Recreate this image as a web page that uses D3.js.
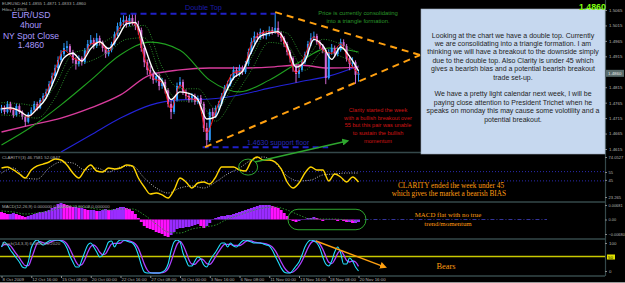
<!DOCTYPE html>
<html>
<head>
<meta charset="utf-8">
<script src="https://cdn.jsdelivr.net/npm/d3@7"></script>
<style>
html, body { margin: 0; padding: 0; background: #000; }
svg { display: block; font-family: "Liberation Sans", Arial, sans-serif; }
</style>
</head>
<body>
<div id="chart"></div>
<script>
// ---- data (EURUSD H4, 8 Oct - 20 Nov 2009) ----
var dateLabels = ["8 Oct 2009", "12 Oct 16:00", "15 Oct 08:00", "20 Oct 00:00", "22 Oct 16:00", "27 Oct 08:00",
  "30 Oct 00:00", "3 Nov 16:00", "6 Nov 08:00", "11 Nov 00:00", "13 Nov 16:00", "18 Nov 08:00", "20 Nov 16:00"];

var opens = [1.4740,1.4748,1.4735,1.4761,1.4741,1.4725,1.4754,1.4735,1.4719,1.4703,
1.4728,1.4741,1.4761,1.4748,1.4774,1.4787,1.4800,1.4825,1.4851,1.4877,
1.4903,1.4922,1.4942,1.4948,1.4929,1.4903,1.4890,1.4909,1.4896,1.4935,
1.4955,1.4968,1.4948,1.4974,1.4961,1.4942,1.4922,1.4935,1.4955,1.4987,
1.5013,1.5026,1.5033,1.5020,1.5039,1.5026,1.5013,1.5000,1.4942,1.4896,
1.4871,1.4858,1.4838,1.4851,1.4819,1.4832,1.4806,1.4761,1.4735,1.4774,
1.4819,1.4832,1.4800,1.4787,1.4774,1.4787,1.4767,1.4780,1.4761,1.4683,
1.4644,1.4735,1.4722,1.4748,1.4761,1.4787,1.4813,1.4825,1.4845,1.4871,
1.4858,1.4877,1.4864,1.4890,1.4929,1.4961,1.4981,1.4974,1.4994,1.4981,
1.4987,1.5000,1.4994,1.5007,1.4987,1.4974,1.4955,1.4929,1.4909,1.4884,
1.4858,1.4871,1.4896,1.4922,1.4955,1.4974,1.4981,1.4961,1.4948,1.4935,
1.4845,1.4929,1.4942,1.4922,1.4935,1.4961,1.4948,1.4909,1.4890,1.4896,
1.4855];
var highs = [1.4758,1.4756,1.4770,1.4768,1.4748,1.4762,1.4760,1.4740,1.4726,1.4734,
1.4750,1.4770,1.4768,1.4780,1.4796,1.4810,1.4835,1.4862,1.4888,1.4915,
1.4935,1.4958,1.4965,1.4955,1.4936,1.4912,1.4918,1.4915,1.4942,1.4968,
1.4984,1.4975,1.4990,1.4982,1.4966,1.4948,1.4944,1.4962,1.4995,1.5024,
1.5040,1.5048,1.5045,1.5050,1.5054,1.5052,1.5030,1.5008,1.4950,1.4905,
1.4885,1.4866,1.4862,1.4858,1.4845,1.4840,1.4812,1.4770,1.4782,1.4830,
1.4848,1.4840,1.4808,1.4795,1.4796,1.4794,1.4788,1.4790,1.4768,1.4700,
1.4745,1.4748,1.4756,1.4770,1.4796,1.4822,1.4836,1.4856,1.4882,1.4880,
1.4888,1.4885,1.4900,1.4940,1.4975,1.4995,1.4992,1.5005,1.5000,1.4998,
1.5012,1.5010,1.5056,1.5028,1.4996,1.4980,1.4962,1.4935,1.4915,1.4890,
1.4880,1.4905,1.4930,1.4965,1.4990,1.4995,1.4988,1.4968,1.4955,1.4940,
1.4938,1.4955,1.4950,1.4946,1.4972,1.4970,1.4955,1.4918,1.4912,1.4902,
1.4871];
var lows = [1.4731,1.4727,1.4730,1.4733,1.4716,1.4720,1.4728,1.4710,1.4688,1.4698,
1.4722,1.4736,1.4740,1.4744,1.4768,1.4779,1.4795,1.4818,1.4845,1.4870,
1.4896,1.4915,1.4930,1.4920,1.4892,1.4872,1.4882,1.4885,1.4890,1.4928,
1.4950,1.4938,1.4942,1.4950,1.4930,1.4910,1.4915,1.4928,1.4950,1.4980,
1.5005,1.5015,1.5008,1.5012,1.5015,1.5000,1.4985,1.4930,1.4880,1.4855,
1.4842,1.4826,1.4830,1.4805,1.4810,1.4795,1.4750,1.4712,1.4728,1.4768,
1.4812,1.4790,1.4776,1.4765,1.4766,1.4758,1.4760,1.4745,1.4670,1.4622,
1.4638,1.4710,1.4715,1.4740,1.4755,1.4780,1.4805,1.4818,1.4838,1.4848,
1.4850,1.4855,1.4858,1.4884,1.4922,1.4955,1.4962,1.4968,1.4972,1.4970,
1.4980,1.4985,1.4988,1.4978,1.4962,1.4945,1.4918,1.4895,1.4865,1.4830,
1.4845,1.4865,1.4890,1.4915,1.4948,1.4965,1.4952,1.4938,1.4925,1.4825,
1.4840,1.4920,1.4912,1.4915,1.4930,1.4938,1.4898,1.4870,1.4878,1.4826,
1.4833];
var closes = [1.4748,1.4735,1.4761,1.4741,1.4725,1.4754,1.4735,1.4719,1.4703,1.4728,
1.4741,1.4761,1.4748,1.4774,1.4787,1.4800,1.4825,1.4851,1.4877,1.4903,
1.4922,1.4942,1.4948,1.4929,1.4903,1.4890,1.4909,1.4896,1.4935,1.4955,
1.4968,1.4948,1.4974,1.4961,1.4942,1.4922,1.4935,1.4955,1.4987,1.5013,
1.5026,1.5033,1.5020,1.5039,1.5026,1.5013,1.5000,1.4942,1.4896,1.4871,
1.4858,1.4838,1.4851,1.4819,1.4832,1.4806,1.4761,1.4735,1.4774,1.4819,
1.4832,1.4800,1.4787,1.4774,1.4787,1.4767,1.4780,1.4761,1.4683,1.4644,
1.4735,1.4722,1.4748,1.4761,1.4787,1.4813,1.4825,1.4845,1.4871,1.4858,
1.4877,1.4864,1.4890,1.4929,1.4961,1.4981,1.4974,1.4994,1.4981,1.4987,
1.5000,1.4994,1.5007,1.4987,1.4974,1.4955,1.4929,1.4909,1.4884,1.4858,
1.4871,1.4896,1.4922,1.4955,1.4974,1.4981,1.4961,1.4948,1.4935,1.4845,
1.4929,1.4942,1.4922,1.4935,1.4961,1.4948,1.4909,1.4890,1.4896,1.4855,
1.4860];

// moving averages, read every 3rd / 6th / 10th bar
var fastMA = [1.4745,1.4748,1.4738,1.4722,1.4745,1.4780,1.4845,1.4910,1.4925,1.4900,
1.4940,1.4962,1.4940,1.4975,1.5020,1.5025,1.4950,1.4870,1.4835,1.4775,
1.4800,1.4795,1.4775,1.4712,1.4720,1.4790,1.4845,1.4866,1.4930,1.4980,
1.4990,1.4995,1.4950,1.4880,1.4900,1.4970,1.4950,1.4905,1.4945,1.4915,
1.4868];
var redMA = [1.4748,1.4745,1.4740,1.4718,1.4752,1.4795,1.4870,1.4935,1.4910,1.4900,
1.4955,1.4960,1.4930,1.4995,1.5028,1.5018,1.4910,1.4845,1.4830,1.4745,
1.4822,1.4780,1.4772,1.4668,1.4738,1.4808,1.4862,1.4868,1.4955,1.4988,
1.4995,1.4990,1.4935,1.4862,1.4918,1.4978,1.4935,1.4925,1.4955,1.4895,
1.4858];
var bandUp = [1.4765,1.4762,1.4755,1.4820,1.4925,1.4940,1.4970,1.5010,1.5015,1.4880,1.4810,
1.4810,1.4745,1.4820,1.4910,1.5000,1.4990,1.4910,1.4970,1.4955,1.4925];
var bandDn = [1.4725,1.4722,1.4715,1.4780,1.4885,1.4900,1.4930,1.4970,1.4975,1.4840,1.4770,
1.4770,1.4705,1.4780,1.4870,1.4960,1.4950,1.4870,1.4930,1.4915,1.4885];
var greenMA = [1.4628,1.4686,1.4758,1.4838,1.4920,1.4961,1.4935,1.4838,1.4800,1.4838,1.4896,1.4942,1.4929];
var pinkMA = [1.4670,1.4693,1.4715,1.4748,1.4790,1.4855,1.4871,1.4877,1.4877,1.4880,1.4887,1.4877,1.4880];
var blueMA = [1.4605,1.4660,1.4715,1.4757,1.4774,1.4777,1.4790,1.4812,1.4832,1.4851,1.4884];

// CLARITY(3) (every 2nd bar) and its signal (every 4th bar)
var clarity = [58.9,60.0,56.8,52.5,48.1,56.8,61.1,63.2,65.4,68.6,
67.6,62.2,53.5,48.1,56.8,62.2,55.7,54.6,58.9,57.9,
58.9,62.2,61.1,48.1,38.4,30.8,31.9,29.8,26.5,35.2,
48.1,43.8,37.3,42.7,43.8,41.6,49.2,60.0,60.0,60.0,
56.8,55.7,66.5,70.8,67.6,67.6,65.4,57.9,43.8,37.3,
42.7,53.5,60.0,56.8,56.8,44.9,52.5,49.2,43.8,49.2,
43.8];
var claritySig = [53.5,58.9,48.1,47.0,58.9,65.4,64.3,56.8,58.9,54.6,60.0,61.1,48.1,37.3,31.9,37.3,
39.5,37.3,43.8,52.5,58.9,67.6,70.8,64.3,50.3,44.9,45.9,51.4,52.5,53.5,53.5];

// MACD(12,26,9) histogram (every bar) and signal (every 4th bar)
var macd = [0.00352,0.00305,0.00258,0.00258,0.00305,0.00258,0.00211,0.00164,0.00117,0.00164,
0.00211,0.00258,0.00305,0.00352,0.00352,0.00399,0.00446,0.00539,0.00586,0.00727,
0.00774,0.00727,0.00680,0.00633,0.00586,0.00586,0.00539,0.00539,0.00492,0.00446,
0.00446,0.00446,0.00399,0.00399,0.00446,0.00492,0.00446,0.00446,0.00492,0.00539,
0.00586,0.00586,0.00539,0.00492,0.00399,0.00258,0.00070,-0.00117,-0.00305,-0.00399,
-0.00446,-0.00492,-0.00586,-0.00633,-0.00680,-0.00774,-0.00821,-0.00727,-0.00586,-0.00446,
-0.00399,-0.00399,-0.00352,-0.00352,-0.00305,-0.00258,-0.00211,-0.00305,-0.00399,-0.00305,
-0.00164,-0.00023,0.00070,0.00117,0.00164,0.00164,0.00211,0.00211,0.00258,0.00305,
0.00352,0.00399,0.00446,0.00492,0.00539,0.00586,0.00633,0.00680,0.00680,0.00680,
0.00680,0.00633,0.00586,0.00539,0.00446,0.00305,0.00164,0.00023,-0.00070,-0.00117,
-0.00070,-0.00023,0.00023,0.00070,0.00070,0.00117,0.00070,0.00023,-0.00070,-0.00023,
0.00023,0.00023,-0.00023,-0.00070,-0.00023,-0.00070,-0.00117,-0.00117,-0.00164,-0.00164,
-0.00117];
var macdSig = [0.00399,0.00352,0.00258,0.00305,0.00399,0.00539,0.00633,0.00586,0.00492,0.00446,
0.00492,0.00492,0.00211,-0.00211,-0.00586,-0.00633,-0.00446,-0.00352,-0.00258,0.00023,
0.00211,0.00399,0.00539,0.00586,0.00446,0.00211,0.00023,0.00023,0.00023,-0.00023,-0.00070];

// Stochastic(14,3,3) %K and %D
var stochK = [78.8,93.9,84.8,69.7,57.6,45.5,33.3,18.2,15.2,33.3,
75.8,93.9,100,90.9,84.8,90.9,97,100,100,100,
97,90.9,75.8,51.5,33.3,18.2,18.2,39.4,63.6,84.8,
90.9,78.8,63.6,48.5,54.5,72.7,93.9,97,78.8,93.9,
100,100,97,93.9,90.9,78.8,54.5,24.2,3,0,
0,0,0,0,3,9.1,27.3,66.7,93.9,100,
93.9,60.6,39.4,21.2,21.2,36.4,48.5,42.4,24.2,18.2,
36.4,51.5,63.6,78.8,90.9,90.9,78.8,90.9,81.8,78.8,
87.9,97,100,97,93.9,90.9,90.9,90.9,87.9,84.8,
81.8,69.7,51.5,33.3,15.2,3,0,0,9.1,21.2,
33.3,54.5,78.8,93.9,100,97,90.9,75.8,48.5,27.3,
21.2,36.4,63.6,78.8,60.6,27.3,27.3,45.5,36.4,18.2,
6.1];
var stochD = [80,86,85.8,82.8,70.7,57.6,45.5,32.3,22.2,22.2,
41.4,67.7,89.9,94.9,91.9,88.9,90.9,96,99,100,
99,96,87.9,72.7,53.5,34.3,23.2,25.3,40.4,62.6,
79.8,84.8,77.8,63.6,55.5,58.6,73.7,87.9,89.9,89.9,
90.9,98,99,97,94,87.9,74.7,52.5,27.2,9.1,
1,0,0,0,1,4,13.1,34.4,62.6,86.9,
95.9,84.8,64.6,40.4,27.3,26.3,35.4,42.4,38.4,28.3,
26.3,35.4,50.5,64.6,77.8,86.9,86.9,86.9,83.8,83.8,
82.8,87.9,95,98,97,93.9,91.9,90.9,89.9,87.9,
84.8,78.8,67.7,51.5,33.3,17.2,6.1,1,3,10.1,
21.2,36.4,55.5,75.7,90.9,97,96,87.9,71.7,50.5,
32.3,28.3,40.4,59.6,67.7,55.5,38.4,33.4,36.4,33.4,
20.2];

var priceTicks = [1.5065, 1.5015, 1.4965, 1.4915, 1.4815, 1.4765, 1.4715, 1.4665, 1.4615];
var lastPrice = 1.4860;

var noteLines = ["Looking at the chart we have a double top.  Currently",
  "we are consolidating into a triangle formation.  I am",
  "thinking we will have a breakout to the downside simply",
  "due to the double top.  Also Clarity is under 45 which",
  "gives a bearish bias and a potential bearish breakout",
  "trade set-up.", "",
  "We have a pretty light calendar next week, I will be",
  "paying close attention to President Trichet when he",
  "speaks on monday this may cause some volotility and a",
  "potential breakout."];

// ---- layout ----
var width = 625, height = 283, plotRight = 605;
var gridColor = "#34484a";

var svg = d3.select("#chart").append("svg")
  .attr("width", width)
  .attr("height", height);
svg.append("rect").attr("width", width).attr("height", height).attr("fill", "#000");

var defs = svg.append("defs");
function clip(id, y0, y1) {
  defs.append("clipPath").attr("id", id)
    .append("rect").attr("x", 0).attr("y", y0).attr("width", plotRight).attr("height", y1 - y0);
}
clip("cMain", 0, 152);
clip("cClar", 153, 201);
clip("cMacd", 203, 238);
clip("cStoch", 240, 275);

function arrowHead(id, color) {
  defs.append("marker").attr("id", id)
    .attr("viewBox", "0 0 10 10").attr("refX", 7).attr("refY", 5)
    .attr("markerWidth", 5).attr("markerHeight", 5).attr("orient", "auto")
    .append("path").attr("d", "M0,0L10,5L0,10z").attr("fill", color);
}
arrowHead("arGreen", "#2ea62e");
arrowHead("arOrange", "#ffa010");

/* Scales */
var x = d3.scaleLinear().domain([0, 120]).range([1.5, 358.5]);
var yP = d3.scaleLinear().domain([1.4615, 1.5065]).range([149, 10]);
var yC = d3.scaleLinear().domain([23.265, 74.0527]).range([201, 154]);
var yM = d3.scaleLinear().domain([-0.0082, 0.0082]).range([237, 202]);
var yS = d3.scaleLinear().domain([0, 100]).range([273, 240]);

var idx3 = d3.range(0, 121, 3), idx6 = d3.range(0, 121, 6), idx10 = d3.range(0, 121, 10);
var idx2 = d3.range(0, 121, 2), idx4 = d3.range(0, 121, 4), idx1 = d3.range(0, 121);

function series(ix, vals) { return vals.map(function(v, k) { return [ix[k], v]; }); }
function lineFor(ys) {
  return d3.line().x(function(d) { return x(d[0]); }).y(function(d) { return ys(d[1]); })
    .curve(d3.curveMonotoneX);
}

/* panel separators */
[152.5, 202, 239, 276].forEach(function(yy) {
  svg.append("line").attr("x1", 0).attr("x2", plotRight).attr("y1", yy).attr("y2", yy)
    .attr("stroke", gridColor).attr("stroke-width", 1.6);
});
svg.append("line").attr("x1", plotRight + 0.5).attr("x2", plotRight + 0.5).attr("y1", 0).attr("y2", 276)
  .attr("stroke", gridColor).attr("stroke-width", 1.2);
svg.append("line").attr("x1", 0).attr("x2", width).attr("y1", 282.5).attr("y2", 282.5)
  .attr("stroke", "#9a9a9a");

/* ---- main price panel ---- */
var main = svg.append("g").attr("clip-path", "url(#cMain)");

var pL = lineFor(yP);
main.append("path").attr("d", pL(series(idx10.slice(2), blueMA)))
  .attr("fill", "none").attr("stroke", "#2323d8").attr("stroke-width", 1.1);
main.append("path").attr("d", pL(series(idx10, pinkMA)))
  .attr("fill", "none").attr("stroke", "#d83c9c").attr("stroke-width", 1.4);
main.append("path").attr("d", pL(series(idx10, greenMA)))
  .attr("fill", "none").attr("stroke", "#20a020").attr("stroke-width", 1.1);

var bars = closes.map(function(c, i) {
  return { i: i, o: opens[i], h: highs[i], l: lows[i], c: c };
});
var barColor = function(d) { return d.c >= d.o ? "#2c9cff" : "#d268d0"; };

main.selectAll(".wick").data(bars).enter().append("line")
  .attr("class", "wick")
  .attr("x1", function(d) { return x(d.i); }).attr("x2", function(d) { return x(d.i); })
  .attr("y1", function(d) { return yP(d.h); }).attr("y2", function(d) { return yP(d.l); })
  .attr("stroke", barColor).attr("stroke-width", 1);
main.selectAll(".body").data(bars).enter().append("rect")
  .attr("class", "body")
  .attr("x", function(d) { return x(d.i) - 1; })
  .attr("width", 2)
  .attr("y", function(d) { return yP(Math.max(d.o, d.c)); })
  .attr("height", function(d) { return Math.max(1, Math.abs(yP(d.o) - yP(d.c))); })
  .attr("fill", barColor);

[bandUp, bandDn].forEach(function(b) {
  main.append("path").attr("d", pL(series(idx6, b)))
    .attr("fill", "none").attr("stroke", "#2e9a2e").attr("stroke-width", 0.9)
    .attr("stroke-dasharray", "1,1.5");
});
main.append("path").attr("d", pL(series(idx3, redMA)))
  .attr("fill", "none").attr("stroke", "#ff1a1a").attr("stroke-width", 1);
main.append("path").attr("d", pL(series(idx3, fastMA)))
  .attr("fill", "none").attr("stroke", "#ffffff").attr("stroke-width", 1.4);

/* chart study lines */
function dashed(g, x1, y1, x2, y2, color, w, dash) {
  return g.append("line").attr("x1", x1).attr("y1", y1).attr("x2", x2).attr("y2", y2)
    .attr("stroke", color).attr("stroke-width", w).attr("stroke-dasharray", dash);
}
var topPx = 1.5053, floorPx = 1.4621, apexBar = 140.7, apexPx = 1.4919;
dashed(svg, x(40), yP(topPx), x(92), yP(topPx), "#2020c8", 2, "6,4");
dashed(svg, x(67.6), yP(floorPx), x(109.8), yP(floorPx), "#2020c8", 2, "6,4");
dashed(svg, x(92), yP(1.5058), x(apexBar), yP(apexPx), "#ffa010", 2, "7,5");
dashed(svg, x(68.4), yP(floorPx), x(apexBar), yP(apexPx), "#ffa010", 2, "7,5");

/* ---- CLARITY panel ---- */
var clar = svg.append("g").attr("clip-path", "url(#cClar)");
[55, 45].forEach(function(lv) {
  clar.append("line").attr("x1", 0).attr("x2", plotRight).attr("y1", yC(lv)).attr("y2", yC(lv))
    .attr("stroke", "#2c2cb0").attr("stroke-dasharray", "1,2");
});
var cL = lineFor(yC);
clar.append("path").attr("d", cL(series(idx4, claritySig)))
  .attr("fill", "none").attr("stroke", "#c8c8c8").attr("stroke-width", 0.9).attr("stroke-dasharray", "1,1.5");
clar.append("path").attr("d", cL(series(idx2, clarity)))
  .attr("fill", "none").attr("stroke", "#ffd400").attr("stroke-width", 1.4);

/* ---- MACD panel ---- */
var mac = svg.append("g").attr("clip-path", "url(#cMacd)");
mac.selectAll(".hist").data(macd).enter().append("rect")
  .attr("class", "hist")
  .attr("x", function(d, i) { return x(i) - 1.5; })
  .attr("width", 3)
  .attr("y", function(d) { return Math.min(yM(d), yM(0)); })
  .attr("height", function(d) { return Math.abs(yM(d) - yM(0)); })
  .attr("fill", function(d, i) { return i > 0 && d >= macd[i - 1] ? "#9a2cff" : "#ff10ff"; });
mac.append("path").attr("d", lineFor(yM)(series(idx4, macdSig)))
  .attr("fill", "none").attr("stroke", "#2e9a2e").attr("stroke-width", 0.9).attr("stroke-dasharray", "1.5,1.5");
svg.append("line").attr("x1", x(122)).attr("x2", 547).attr("y1", yM(0)).attr("y2", yM(0))
  .attr("stroke", "#34349c").attr("stroke-dasharray", "4,2,1,2");

/* ---- Stochastic panel ---- */
var sto = svg.append("g").attr("clip-path", "url(#cStoch)");
sto.append("line").attr("x1", 0).attr("x2", plotRight).attr("y1", yS(50)).attr("y2", yS(50))
  .attr("stroke", "#c8c800").attr("stroke-width", 1.3);
var sL = lineFor(yS);
sto.append("path").attr("d", sL(series(idx1, stochD)))
  .attr("fill", "none").attr("stroke", "#b040ff").attr("stroke-width", 1.3);
sto.append("path").attr("d", sL(series(idx1, stochK)))
  .attr("fill", "none").attr("stroke", "#22e0ff").attr("stroke-width", 1.1);

/* ---- axes ---- */
function styleAxis(g, size) {
  g.select(".domain").remove();
  g.selectAll(".tick line").attr("stroke", "#8a8a8a");
  g.selectAll(".tick text").attr("fill", "#b4b4b4").style("font-size", size || "4.4px")
    .style("font-family", "'Liberation Sans', Arial, sans-serif");
}
svg.append("g").attr("transform", "translate(" + plotRight + ",0)")
  .call(d3.axisRight(yP).tickValues(priceTicks).tickSize(2).tickPadding(2).tickFormat(d3.format(".4f")))
  .call(styleAxis);

var yCl = yC.copy().range([197, 157]);
svg.append("g").attr("transform", "translate(" + plotRight + ",0)")
  .call(d3.axisRight(yCl).tickValues([74.0527, 55, 45, 23.265]).tickSize(2).tickPadding(1.5)
    .tickFormat(function(d) { return d === 55 || d === 45 ? d : d3.format(".4~f")(d); }))
  .call(function(g) { styleAxis(g, "4.1px"); });
var yMl = yM.copy().domain([-0.0068, 0.0068]).range([234, 205]);
svg.append("g").attr("transform", "translate(" + plotRight + ",0)")
  .call(d3.axisRight(yMl).tickValues([0.00681, 0, -0.0068]).tickSize(2).tickPadding(1.5)
    .tickFormat(function(d) { return d === 0 ? "0.00" : d3.format(".5f")(d); }))
  .call(function(g) { styleAxis(g, "3.9px"); });
var ySl = yS.copy().range([271, 243]);
svg.append("g").attr("transform", "translate(" + plotRight + ",0)")
  .call(d3.axisRight(ySl).tickValues([100, 0]).tickSize(2).tickPadding(2))
  .call(styleAxis);

// current price & level-50 markers
svg.append("rect").attr("x", plotRight + 1).attr("y", yP(lastPrice) - 3.5).attr("width", 18).attr("height", 7)
  .attr("fill", "#5a6c6c");
svg.append("text").attr("x", plotRight + 3).attr("y", yP(lastPrice) + 1.7).text(d3.format(".4f")(lastPrice))
  .attr("fill", "#e8e8e8").attr("font-size", "4.4px");
svg.append("rect").attr("x", plotRight + 2).attr("y", ySl(50) - 2.5).attr("width", 8).attr("height", 5)
  .attr("fill", "#e0e000");
svg.append("text").attr("x", plotRight + 3).attr("y", ySl(50) + 1.6).text("50")
  .attr("fill", "#202000").attr("font-size", "4.4px");

svg.append("g").attr("transform", "translate(0,276)")
  .call(d3.axisBottom(x).tickValues(idx10).tickSize(2).tickPadding(0)
    .tickFormat(function(d, i) { return dateLabels[i]; }))
  .call(function(g) { styleAxis(g, "4.4px"); })
  .call(function(g) { g.selectAll(".tick text").attr("text-anchor", "start").attr("dx", 0.5); });

/* ---- indicator headers ---- */
function small(t, xx, yy) {
  svg.append("text").attr("x", xx).attr("y", yy).text(t)
    .attr("fill", "#a8a8a8").attr("font-size", "4.4px");
}
small("EURUSD,H4  1.4855 1.4871 1.4833 1.4860", 2, 5);
small("Hilo= 1.4903", 2, 10.5);
small("CLARITY(3) 46.7581 52.0847", 2, 159);
small("MACD(12,26,9) 0.000000 0.000000 -0.00108 0.000000", 2, 208);
small("Stoch(14,3,3) 6.0606 20.2020", 2, 245);

/* ---- annotations ---- */
var lav = svg.append("g").attr("fill", "#a898ff").attr("text-anchor", "middle").attr("font-size", "8.6px");
[["EUR/USD", 18], ["4hour", 28], ["NY Spot Close", 38.5], ["1.4860", 48]].forEach(function(t) {
  lav.append("text").attr("x", 31).attr("y", t[1]).text(t[0]);
});

svg.append("text").attr("x", 185).attr("y", 10).text("Double Top")
  .attr("fill", "#1c1ca8").attr("font-size", "7.3px");
svg.append("text").attr("x", 247).attr("y", 144.5).text("1.4630 support floor")
  .attr("fill", "#2828b8").attr("font-size", "7px");

var grn = svg.append("g").attr("fill", "#2a962a").attr("text-anchor", "middle").attr("font-size", "5.9px");
grn.append("text").attr("x", 358).attr("y", 15).text("Price is currently consolidating");
grn.append("text").attr("x", 358).attr("y", 23).text("into a triangle formation.");

var red = svg.append("g").attr("fill", "#d01414").attr("text-anchor", "middle").attr("font-size", "5.6px");
["Clarity started the week", "with a bullish breakout over", "55 but this pair was unable",
  "to sustain the bullish", "momentum"].forEach(function(t, k) {
  red.append("text").attr("x", 378).attr("y", 112 + k * 7.7).text(t);
});

// green arrow + circle on CLARITY
svg.append("line").attr("x1", x(85.2)).attr("y1", yC(65.4)).attr("x2", x(116.2)).attr("y2", yP(1.4641))
  .attr("stroke", "#2ea62e").attr("stroke-width", 1.4).attr("marker-end", "url(#arGreen)");
svg.append("ellipse").attr("cx", x(82.9)).attr("cy", yC(59.9)).attr("rx", 9.5).attr("ry", 8)
  .attr("fill", "none").attr("stroke", "#2ea62e").attr("stroke-width", 1);

// MACD flat zone
svg.append("rect").attr("x", x(96.3)).attr("y", yM(0.0048)).attr("width", x(122.5) - x(96.3))
  .attr("height", yM(-0.0048) - yM(0.0048)).attr("rx", 10).attr("ry", 10)
  .attr("fill", "none").attr("stroke", "#2ea62e").attr("stroke-width", 1);

// stochastic arrow
svg.append("line").attr("x1", x(105.7)).attr("y1", yS(97)).attr("x2", x(128.9)).attr("y2", yS(18))
  .attr("stroke", "#ffa010").attr("stroke-width", 1.4).attr("marker-end", "url(#arOrange)");

var org = svg.append("g").attr("fill", "#ff9c10").attr("text-anchor", "middle")
  .style("font-family", "'Liberation Serif', 'Times New Roman', serif");
org.append("text").attr("x", 451).attr("y", 187.5).attr("font-size", "7.3px").text("CLARITY ended the week under 45");
org.append("text").attr("x", 449).attr("y", 196).attr("font-size", "7.3px").text("which gives the market a bearish BIAS");
org.append("text").attr("x", 448).attr("y", 216.5).attr("font-size", "6.9px").text("MACD flat with no true");
org.append("text").attr("x", 448).attr("y", 225.8).attr("font-size", "6.9px").text("trend/momentum");
org.append("text").attr("x", 446).attr("y", 269).attr("font-size", "8.4px").text("Bears");

// note box
svg.append("rect").attr("x", 421).attr("y", 9).attr("width", 184).attr("height", 145)
  .attr("fill", "#c6d8ef").attr("stroke", "#9aa8b8").attr("stroke-width", 0.6);
var note = svg.append("g").attr("fill", "#1e1e1e").attr("text-anchor", "middle").attr("font-size", "7px");
noteLines.forEach(function(t, k) {
  note.append("text").attr("x", 513).attr("y", 37.5 + k * 8.4).text(t);
});

svg.append("text").attr("x", 579).attr("y", 10).text("1.4860")
  .attr("fill", "#80ff10").attr("font-size", "8.8px").attr("font-weight", "bold");
</script>
</body>
</html>
